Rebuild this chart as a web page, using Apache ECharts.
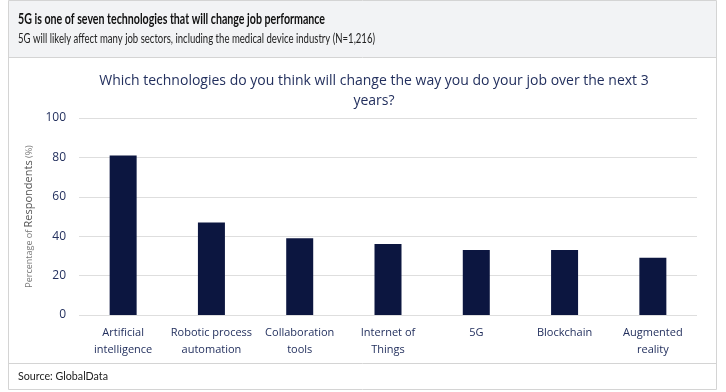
<!DOCTYPE html>
<html><head><meta charset="utf-8">
<script src="https://cdn.jsdelivr.net/npm/echarts@6/dist/echarts.min.js"></script>
<style>html,body{margin:0;padding:0;background:#fff}#c{width:726px;height:392px}</style>
</head><body><div id="c"></div>
<script>
const categories = ["Artificial\nintelligence","Robotic process\nautomation","Collaboration\ntools","Internet of\nThings","5G","Blockchain","Augmented\nreality"];
const values = [81, 47, 39, 36, 33, 33, 29];
const yTicks = [0, 20, 40, 60, 80, 100];

const FONT = "Open Sans";
const NAVY = "#23305e";
const titleText = '5G is one of seven technologies that will change job performance';
const subText = '5G will likely affect many job sectors, including the medical device industry (N=1,216)';
const srcText = 'Source: GlobalData';

const ctx = document.createElement('canvas').getContext('2d');
function fitScale(text, font, target){ ctx.font = font; return target / ctx.measureText(text).width; }
const tFont = 'bold 14.5px Lato', sFont = '12.5px Lato', cFont = '12px Lato';

const chart = echarts.init(document.getElementById('c'), null, {renderer:'canvas'});
chart.setOption({
  animation:false,
  textStyle:{fontFamily:FONT},
  graphic:[
    {type:'rect', shape:{x:8.5,y:0.5,width:708,height:389}, style:{fill:'#fff',stroke:'#d4d4d4',lineWidth:1}, z:-10},
    {type:'rect', shape:{x:9,y:1,width:707,height:56}, style:{fill:'#f2f3f5'}, z:-9},
    {type:'line', shape:{x1:9,y1:57.5,x2:716,y2:57.5}, style:{stroke:'#d4d4d4',lineWidth:1}, z:-8},
    {type:'line', shape:{x1:9,y1:363.5,x2:716,y2:363.5}, style:{stroke:'#d4d4d4',lineWidth:1}, z:-8},
    {type:'text', x:18, y:12, scaleX:fitScale(titleText,tFont,307), style:{text:titleText, font:tFont, fill:'#111'}},
    {type:'text', x:18, y:32, scaleX:fitScale(subText,sFont,357), style:{text:subText, font:sFont, fill:'#222'}},
    {type:'text', x:18, y:370, scaleX:fitScale(srcText,cFont,90), style:{text:srcText, font:cFont, fill:'#222'}}
  ],
  title:[
    {text:'Which technologies do you think will change the way you do your job over the next 3\nyears?', left:369, top:66, textAlign:'center',
     textStyle:{fontFamily:FONT,fontSize:14,fontWeight:'normal',color:NAVY,lineHeight:20,align:'center'}}
  ],
  grid:{left:79, right:29, top:118, bottom:77},
  xAxis:{type:'category', data:categories,
    axisLine:{show:false}, axisTick:{show:false},
    axisLabel:{color:NAVY, fontSize:11, fontFamily:FONT, lineHeight:17, margin:9, interval:0}},
  yAxis:{type:'value', min:0, max:100, interval:20,
    name:'{s|Percentage of }{b|Respondents}{s| (%)}', nameLocation:'middle', nameGap:42, nameRotate:90,
    nameTextStyle:{rich:{s:{fontSize:9,color:'#777',fontFamily:FONT},b:{fontSize:11,color:'#555',fontFamily:FONT}}},
    axisLine:{show:false}, axisTick:{show:false},
    axisLabel:{color:NAVY, fontSize:12, fontFamily:FONT, margin:13, formatter:v=>yTicks.includes(v)?String(v):''},
    splitLine:{lineStyle:{color:'#dedede',width:1}}},
  series:[{type:'bar', data:values, barWidth:27, itemStyle:{color:'#0c1640'}}]
});
</script></body></html>
